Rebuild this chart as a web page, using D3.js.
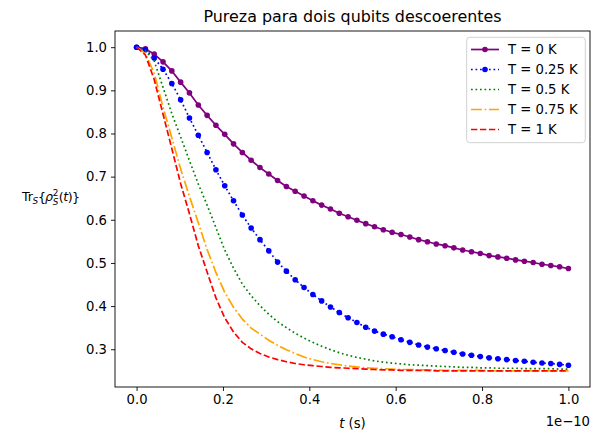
<!DOCTYPE html>
<html><head><meta charset="utf-8">
<script src="https://cdn.jsdelivr.net/npm/d3@7"></script>
<style>body{margin:0;background:#fff} text{font-family:"DejaVu Sans",sans-serif;fill:#000}</style>
</head><body>
<svg id="c" width="591" height="430"></svg>
<script>
// time in units of 1e-10 s
const time = [0, 0.0204, 0.0408, 0.0612, 0.0816, 0.1020, 0.1224, 0.1429, 0.1633, 0.1837,
  0.2041, 0.2245, 0.2449, 0.2653, 0.2857, 0.3061, 0.3265, 0.3469, 0.3673, 0.3878,
  0.4082, 0.4286, 0.4490, 0.4694, 0.4898, 0.5102, 0.5306, 0.5510, 0.5714, 0.5918,
  0.6122, 0.6327, 0.6531, 0.6735, 0.6939, 0.7143, 0.7347, 0.7551, 0.7755, 0.7959,
  0.8163, 0.8367, 0.8571, 0.8776, 0.8980, 0.9184, 0.9388, 0.9592, 0.9796, 1.0];

const purityT0 = [1.000, 0.996, 0.984, 0.966, 0.945, 0.919, 0.894, 0.866, 0.842, 0.819,
  0.798, 0.776, 0.756, 0.738, 0.721, 0.706, 0.691, 0.677, 0.666, 0.655,
  0.644, 0.634, 0.625, 0.615, 0.607, 0.599, 0.591, 0.584, 0.577, 0.571,
  0.566, 0.560, 0.554, 0.549, 0.544, 0.540, 0.535, 0.530, 0.526, 0.522,
  0.517, 0.514, 0.511, 0.507, 0.504, 0.501, 0.497, 0.494, 0.491, 0.487];

const purityT025 = [1.000, 0.994, 0.975, 0.949, 0.916, 0.878, 0.836, 0.796, 0.756, 0.716,
  0.679, 0.644, 0.611, 0.581, 0.554, 0.528, 0.502, 0.481, 0.461, 0.443,
  0.427, 0.412, 0.398, 0.385, 0.373, 0.362, 0.351, 0.342, 0.335, 0.329,
  0.322, 0.316, 0.310, 0.305, 0.301, 0.297, 0.293, 0.289, 0.286, 0.283,
  0.280, 0.278, 0.276, 0.274, 0.272, 0.270, 0.268, 0.267, 0.265, 0.263];

const purityT05 = [1.000, 0.992, 0.968, 0.907, 0.846, 0.792, 0.737, 0.683, 0.634, 0.582,
  0.530, 0.488, 0.451, 0.424, 0.401, 0.381, 0.364, 0.350, 0.337, 0.326,
  0.316, 0.307, 0.299, 0.292, 0.286, 0.281, 0.277, 0.273, 0.270, 0.268,
  0.266, 0.264, 0.263, 0.262, 0.261, 0.260, 0.259, 0.258, 0.258, 0.257,
  0.257, 0.256, 0.256, 0.256, 0.255, 0.255, 0.255, 0.255, 0.254, 0.254];

const purityT075 = [1.000, 0.985, 0.940, 0.861, 0.790, 0.718, 0.654, 0.593, 0.531, 0.478,
  0.432, 0.397, 0.370, 0.349, 0.335, 0.321, 0.309, 0.299, 0.290, 0.282,
  0.276, 0.271, 0.267, 0.264, 0.261, 0.259, 0.257, 0.256, 0.255, 0.254,
  0.253, 0.253, 0.252, 0.252, 0.252, 0.251, 0.251, 0.251, 0.251, 0.251,
  0.250, 0.250, 0.250, 0.250, 0.250, 0.250, 0.250, 0.250, 0.250, 0.250];

const purityT1 = [1.000, 0.982, 0.925, 0.845, 0.765, 0.684, 0.614, 0.540, 0.479, 0.419,
  0.373, 0.340, 0.316, 0.301, 0.290, 0.282, 0.276, 0.271, 0.267, 0.264,
  0.262, 0.260, 0.258, 0.257, 0.256, 0.255, 0.254, 0.253, 0.252, 0.252,
  0.251, 0.251, 0.251, 0.251, 0.250, 0.250, 0.250, 0.250, 0.250, 0.250,
  0.250, 0.250, 0.250, 0.250, 0.250, 0.250, 0.250, 0.250, 0.250, 0.250];

const seriesLabels = ["T = 0 K", "T = 0.25 K", "T = 0.5 K", "T = 0.75 K", "T = 1 K"];
const xTicks = [0.0, 0.2, 0.4, 0.6, 0.8, 1.0];
const yTicks = [0.3, 0.4, 0.5, 0.6, 0.7, 0.8, 0.9, 1.0];

const styles = [
  {color: "purple", dash: null, marker: true},
  {color: "blue", dash: "1.7,2.8", marker: true},
  {color: "green", dash: "1.7,2.8", marker: false},
  {color: "orange", dash: "10.9,2.7,1.7,2.7", marker: false},
  {color: "red", dash: "6.3,2.7", marker: false}
];
const seriesValues = [purityT0, purityT025, purityT05, purityT075, purityT1];

const svg = d3.select("#c");
const L = 115, R = 590, T = 31, B = 387;
const x = d3.scaleLinear().domain([-0.05, 1.05]).range([L, R]);
const y = d3.scaleLinear().domain([0.2125, 1.0375]).range([B, T]);

svg.append("rect").attr("width", 591).attr("height", 430).attr("fill", "#fff");

svg.append("defs").append("clipPath").attr("id", "clip")
  .append("rect").attr("x", L).attr("y", T).attr("width", R - L).attr("height", B - T);

const plot = svg.append("g").attr("clip-path", "url(#clip)");
const line = d3.line().x((d, i) => x(time[i])).y(d => y(d));
const mr = 2.8;

seriesValues.forEach((vals, k) => {
  const st = styles[k];
  const p = plot.append("path").datum(vals).attr("d", line)
    .attr("fill", "none").attr("stroke", st.color).attr("stroke-width", 1.7)
    .attr("stroke-linejoin", "round");
  if (st.dash) p.attr("stroke-dasharray", st.dash).attr("stroke-linecap", "butt");
  else p.attr("stroke-linecap", "square");
  if (st.marker) {
    plot.append("g").selectAll("circle").data(vals).join("circle")
      .attr("cx", (d, i) => x(time[i])).attr("cy", d => y(d)).attr("r", mr)
      .attr("fill", st.color);
  }
});

// axes
const fs = 13.2;
const xAxis = d3.axisBottom(x).tickValues(xTicks).tickFormat(d3.format(".1f")).tickSize(4).tickPadding(4);
const gx = svg.append("g").attr("transform", `translate(0,${B})`).call(xAxis);
const yAxis = d3.axisLeft(y).tickValues(yTicks).tickFormat(d3.format(".1f")).tickSize(4).tickPadding(4);
const gy = svg.append("g").attr("transform", `translate(${L},0)`).call(yAxis);
[gx, gy].forEach(g => {
  g.select(".domain").remove();
  g.selectAll("text").attr("font-size", fs).attr("font-family", "DejaVu Sans").attr("fill", "#000");
  g.selectAll("line").attr("stroke", "#000").attr("stroke-width", 0.9);
});
gx.selectAll("text").attr("dy", "0.71em");

svg.append("rect").attr("x", L).attr("y", T).attr("width", R - L).attr("height", B - T)
  .attr("fill", "none").attr("stroke", "#000").attr("stroke-width", 0.9);

// title
svg.append("text").attr("x", (L + R) / 2).attr("y", 22).attr("text-anchor", "middle")
  .attr("font-size", 15.9).text("Pureza para dois qubits descoerentes");

// x label
const xl = svg.append("text").attr("x", (L + R) / 2).attr("y", 427.5).attr("text-anchor", "middle")
  .attr("font-size", fs);
xl.append("tspan").attr("font-style", "italic").text("t");
xl.append("tspan").text(" (s)");

// offset text
svg.append("text").attr("x", R).attr("y", 425.5).attr("text-anchor", "end")
  .attr("font-size", fs).text("1e\u221210");

// y label (mathtext-like)
(function () {
  const g = svg.append("g");
  const base = 201.5;
  const lf = 12.4, sf = 8.7;
  let cx = 0;
  function piece(txt, opts) {
    return g.append("text").attr("x", cx).attr("y", base + (opts.dy || 0))
      .attr("font-size", opts.size || lf).attr("font-style", opts.italic ? "italic" : "normal").text(txt);
  }
  function add(txt, opts, tight) {
    const t = piece(txt, opts);
    cx += t.node().getComputedTextLength() - (tight || 0);
    return t;
  }
  add("Tr", {}, 0.5);
  add("S", {italic: true, size: sf, dy: 2.8}, 0);
  add("{", {}, 1.2);
  add("\u03C1", {italic: true}, 0.3);
  const sup = piece("2", {size: sf, dy: -5.2});
  const sub = piece("S", {italic: true, size: sf, dy: 3.4});
  cx += Math.max(sup.node().getComputedTextLength(), sub.node().getComputedTextLength()) + 0.5;
  add("(", {}, 0.5);
  add("t", {italic: true}, 0.3);
  add(")", {}, 0.8);
  add("}", {}, 0);
  const left = 22, right = 80;
  const sc = (right - left) / cx;
  g.attr("transform", `translate(${left},${base}) scale(${sc},1) translate(0,${-base})`);
})();

// legend
const lg = svg.append("g");
lg.append("rect").attr("x", 466.7).attr("y", 37.3).attr("width", 118.6).attr("height", 105.4)
  .attr("rx", 3).attr("fill", "#fff").attr("fill-opacity", 0.8).attr("stroke", "#ccc").attr("stroke-width", 0.9);
seriesLabels.forEach((lab, k) => {
  const st = styles[k];
  const cy = 49.5 + k * 20;
  const l = lg.append("line").attr("x1", 471).attr("x2", 499).attr("y1", cy).attr("y2", cy)
    .attr("stroke", st.color).attr("stroke-width", 1.7);
  if (st.dash) l.attr("stroke-dasharray", st.dash);
  if (st.marker) lg.append("circle").attr("cx", 485).attr("cy", cy).attr("r", mr).attr("fill", st.color);
  lg.append("text").attr("x", 508).attr("y", cy + 4.8).attr("font-size", fs).text(lab);
});
</script>
</body></html>
